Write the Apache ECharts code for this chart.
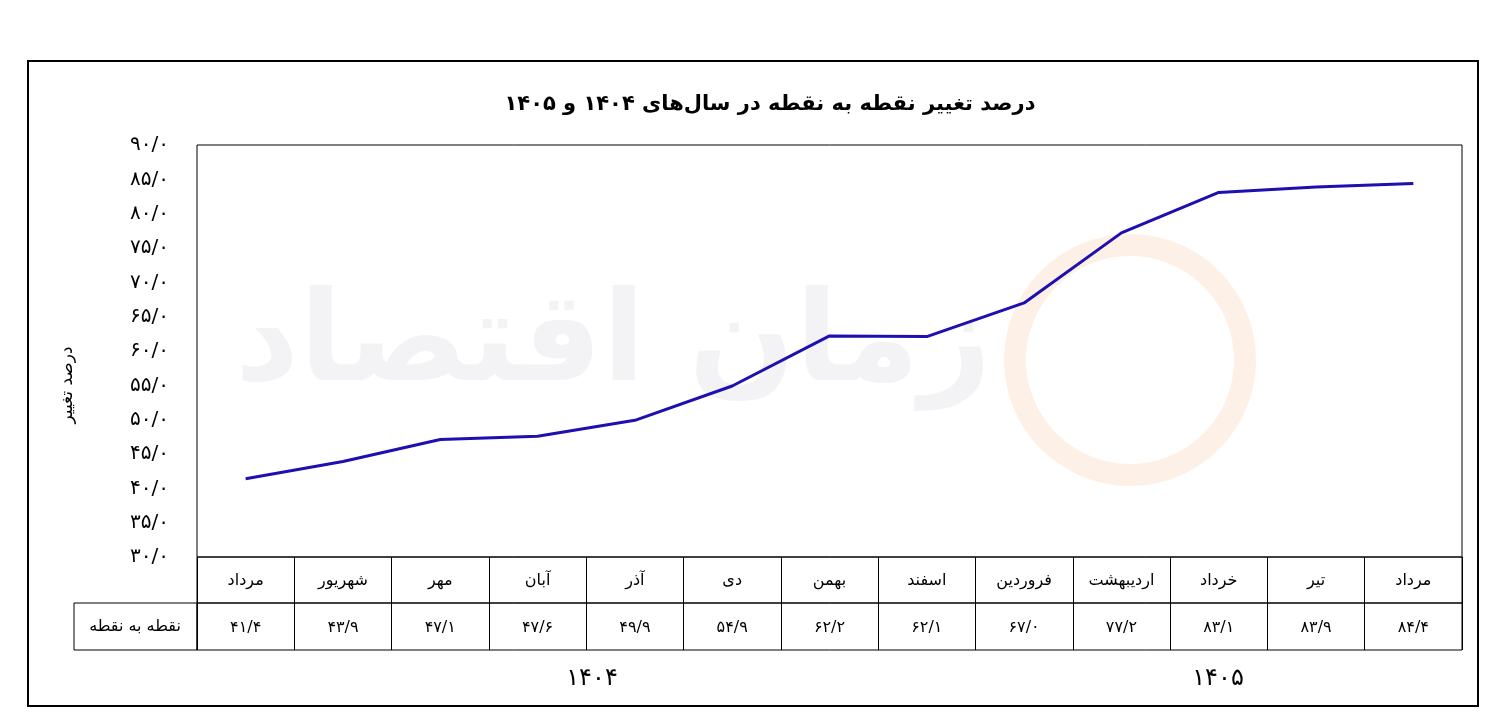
<!DOCTYPE html>
<html><head><meta charset="utf-8">
<script src="https://cdn.jsdelivr.net/npm/echarts@6/dist/echarts.min.js"></script>
<style>html,body{margin:0;background:#fff}#c{width:1506px;height:726px}</style>
</head><body><div id="c"></div>
<script>
const months = ['مرداد','شهریور','مهر','آبان','آذر','دی','بهمن','اسفند','فروردین','اردیبهشت','خرداد','تیر','مرداد'];
const values = [41.4, 43.9, 47.1, 47.6, 49.9, 54.9, 62.2, 62.1, 67.0, 77.2, 83.1, 83.9, 84.4];
const years = ['۱۴۰۴', '۱۴۰۵'];

const fa = s => String(s).replace(/\d/g, d => '۰۱۲۳۴۵۶۷۸۹'[d]);
const fmt1 = v => fa(v.toFixed(1).replace('.', '/'));
const FONT = 'DejaVu Sans';
const L = 197, W = 1265;

const tableAxis = (gi, data) => ({
  type: 'category', gridIndex: gi, data: data, boundaryGap: true,
  axisLine: { show: false }, axisTick: { show: false },
  splitLine: { show: true, interval: 0, lineStyle: { color: '#000', width: 1 } },
  axisLabel: { interval: 0, margin: -30, color: '#000', fontSize: 16, fontFamily: FONT }
});

const option = {
  animation: false,
  textStyle: { fontFamily: FONT },
  title: {
    text: 'درصد تغییر نقطه به نقطه در سال‌های ۱۴۰۴ و ۱۴۰۵',
    left: 765, top: 89, textAlign: 'center',
    textStyle: { fontSize: 21, fontWeight: 'bold', color: '#000', fontFamily: FONT }
  },
  grid: [
    { left: L, top: 145, width: W, height: 412, show: true, borderColor: '#000', borderWidth: 1 },
    { left: L, top: 557, width: W, height: 46, show: true, borderColor: '#000', borderWidth: 1 },
    { left: L, top: 603, width: W, height: 47, show: true, borderColor: '#000', borderWidth: 1 }
  ],
  xAxis: [
    { type: 'category', gridIndex: 0, data: months, boundaryGap: true,
      axisLine: { show: false }, axisTick: { show: false }, axisLabel: { show: false } },
    tableAxis(1, months),
    tableAxis(2, values.map(fmt1))
  ],
  yAxis: [
    { type: 'value', gridIndex: 0, min: 30, max: 90, interval: 5,
      axisLine: { show: false }, axisTick: { show: false }, splitLine: { show: false },
      axisLabel: { formatter: v => fmt1(v), fontSize: 20, color: '#000', margin: 28, fontFamily: FONT } },
    { type: 'value', gridIndex: 1, show: false },
    { type: 'value', gridIndex: 2, show: false }
  ],
  series: [{
    type: 'line', xAxisIndex: 0, yAxisIndex: 0, data: values,
    symbol: 'none', lineStyle: { color: '#1d0fb0', width: 3 }
  }],
  graphic: [
    { type: 'rect', shape: { x: 28, y: 61, width: 1450, height: 645 }, style: { fill: 'none', stroke: '#000', lineWidth: 2 }, z: -1 },
    { type: 'text', left: 235, top: 285, z: -5, style: { text: 'زمان اقتصاد', fontSize: 125, fontWeight: 'bold', fill: '#f3f3f6', fontFamily: FONT } },
    { type: 'circle', shape: { cx: 1130, cy: 360, r: 115 }, z: -5, style: { fill: 'none', stroke: '#fdf0e6', lineWidth: 22 } },
    { type: 'text', x: 68, y: 385, rotation: Math.PI / 2, style: { text: 'درصد تغییر', fontSize: 17, fill: '#000', align: 'center', verticalAlign: 'middle', fontFamily: FONT } },
    { type: 'rect', shape: { x: 74, y: 603, width: 123, height: 47 }, style: { fill: 'none', stroke: '#000', lineWidth: 1 } },
    { type: 'text', x: 135, y: 627, style: { text: 'نقطه به نقطه', fontSize: 16, fill: '#000', align: 'center', verticalAlign: 'middle', fontFamily: FONT } },
    { type: 'text', x: 592, y: 679, style: { text: years[0], fontSize: 24, fill: '#000', align: 'center', verticalAlign: 'middle', fontFamily: FONT } },
    { type: 'text', x: 1218, y: 679, style: { text: years[1], fontSize: 24, fill: '#000', align: 'center', verticalAlign: 'middle', fontFamily: FONT } }
  ]
};
const chart = echarts.init(document.getElementById('c'));
chart.setOption(option);
</script></body></html>
